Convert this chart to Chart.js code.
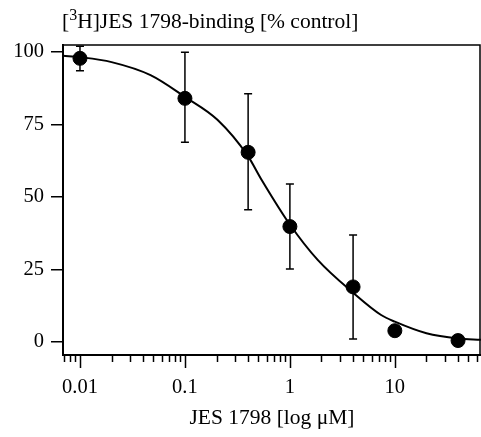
<!DOCTYPE html>
<html>
<head>
<meta charset="utf-8">
<script src="https://cdn.jsdelivr.net/npm/chart.js@4"></script>
<style>
  html, body { margin: 0; padding: 0; background: #fff; }
</style>
</head>
<body>
<canvas id="myChart" width="481" height="437"></canvas>
<script>
// measured points
const concentrations = [0.01, 0.1, 0.4, 1, 4, 10, 40];
const binding = [97.8, 84, 65.4, 39.8, 19, 3.9, 0.5];
const errUpper = [102, 99.9, 85.6, 54.5, 36.9, null, null];
const errLower = [93.5, 68.9, 45.6, 25.2, 1, null, null];

// fitted curve
const curveX = [0.0069, 0.01, 0.02, 0.047, 0.1, 0.204, 0.4, 0.528, 1, 1.84, 4, 7.4, 10, 20, 40, 66];
const curveY = [98.7, 98.2, 96.5, 92, 84.5, 76.6, 64, 56.4, 40.5, 28.3, 17, 9.3, 7, 3, 1.2, 0.8];

// ticks
const yTicks = [0, 25, 50, 75, 100];
const xMajor = [0.01, 0.1, 1, 10];
const xMinor = [0.007, 0.008, 0.009,
                0.02, 0.03, 0.04, 0.05, 0.06, 0.07, 0.08, 0.09,
                0.2, 0.3, 0.4, 0.5, 0.6, 0.7, 0.8, 0.9,
                2, 3, 4, 5, 6, 7, 8, 9,
                20, 30, 40, 50, 60];

const FONT = "'Liberation Serif', 'Times New Roman', serif";

const extras = {
    id: 'extras',
    beforeDatasetsDraw(chart) {
        const ctx = chart.ctx;
        const x = chart.scales.x, y = chart.scales.y;
        const a = chart.chartArea;
        ctx.save();
        ctx.strokeStyle = '#000';
        // frame top + right
        ctx.lineWidth = 1.5;
        ctx.beginPath();
        ctx.moveTo(a.left, a.top);
        ctx.lineTo(a.right - 1, a.top);
        ctx.lineTo(a.right - 1, a.bottom);
        ctx.stroke();
        // x ticks
        ctx.lineWidth = 1.5;
        xMajor.forEach(function(v) {
            const px = Math.round(x.getPixelForValue(v)) + 0.5;
            ctx.beginPath();
            ctx.moveTo(px, a.bottom);
            ctx.lineTo(px, a.bottom + 13);
            ctx.stroke();
        });
        xMinor.forEach(function(v) {
            const px = Math.round(x.getPixelForValue(v)) + 0.5;
            ctx.beginPath();
            ctx.moveTo(px, a.bottom);
            ctx.lineTo(px, a.bottom + 7);
            ctx.stroke();
        });
        // error bars
        ctx.lineWidth = 1.5;
        for (let i = 0; i < concentrations.length; i++) {
            if (errUpper[i] == null) continue;
            const px = x.getPixelForValue(concentrations[i]);
            const top = y.getPixelForValue(errUpper[i]);
            const bot = y.getPixelForValue(errLower[i]);
            ctx.beginPath();
            ctx.moveTo(px, top);
            ctx.lineTo(px, bot);
            ctx.moveTo(px - 4, top);
            ctx.lineTo(px + 4, top);
            ctx.moveTo(px - 4, bot);
            ctx.lineTo(px + 4, bot);
            ctx.stroke();
        }
        ctx.restore();
    },
    afterDraw(chart) {
        const ctx = chart.ctx;
        ctx.save();
        ctx.fillStyle = '#000';
        ctx.textBaseline = 'alphabetic';
        let cx = 62;
        const base = 28;
        ctx.font = '21.5px ' + FONT;
        ctx.fillText('[', cx, base);
        cx += ctx.measureText('[').width;
        ctx.font = '16px ' + FONT;
        ctx.fillText('3', cx, base - 8);
        cx += ctx.measureText('3').width;
        ctx.font = '21.5px ' + FONT;
        ctx.fillText('H]JES 1798-binding [% control]', cx, base);
        ctx.restore();
    }
};

const ctx = document.getElementById('myChart').getContext('2d');
const myChart = new Chart(ctx, {
    type: 'scatter',
    data: {
        datasets: [
            {
                label: 'fit',
                type: 'line',
                data: curveX.map(function(v, i) { return {x: v, y: curveY[i]}; }),
                borderColor: '#000',
                borderWidth: 2,
                pointRadius: 0,
                fill: false,
                cubicInterpolationMode: 'monotone',
                order: 2
            },
            {
                label: 'binding',
                data: concentrations.map(function(v, i) { return {x: v, y: binding[i]}; }),
                backgroundColor: '#000',
                borderColor: '#000',
                pointRadius: 7,
                order: 1
            }
        ]
    },
    options: {
        responsive: false,
        animation: false,
        devicePixelRatio: 1,
        layout: { autoPadding: false, padding: { top: 45, right: 0, left: 0, bottom: 0 } },
        plugins: {
            legend: { display: false },
            tooltip: { enabled: false }
        },
        scales: {
            x: {
                type: 'logarithmic',
                min: 0.00689,
                max: 66.2,
                afterBuildTicks: function(scale) {
                    scale.ticks = xMajor.map(function(v) { return {value: v}; });
                },
                afterFit: function(scale) {
                    scale.height = 82;
                    scale.paddingLeft = 0;
                    scale.paddingRight = 0;
                },
                grid: { display: false },
                border: { display: true, color: '#000', width: 2 },
                ticks: {
                    autoSkip: false,
                    maxRotation: 0,
                    padding: 12,
                    color: '#000',
                    font: { family: FONT, size: 20.5 },
                    callback: function(value) { return String(value); }
                },
                title: {
                    display: true,
                    text: 'JES 1798 [log μM]',
                    color: '#000',
                    font: { family: FONT, size: 21.5 },
                    padding: { top: 0, bottom: 6 }
                }
            },
            y: {
                min: -4.48,
                max: 102.4,
                afterBuildTicks: function(scale) {
                    scale.ticks = yTicks.map(function(v) { return {value: v}; });
                },
                afterFit: function(scale) { scale.width = 63; },
                grid: {
                    drawOnChartArea: false,
                    color: '#000',
                    tickLength: 12,
                    lineWidth: 1.5
                },
                border: { display: true, color: '#000', width: 2 },
                ticks: {
                    padding: 7,
                    color: '#000',
                    font: { family: FONT, size: 20.5 }
                }
            }
        }
    },
    plugins: [extras]
});
</script>
</body>
</html>
